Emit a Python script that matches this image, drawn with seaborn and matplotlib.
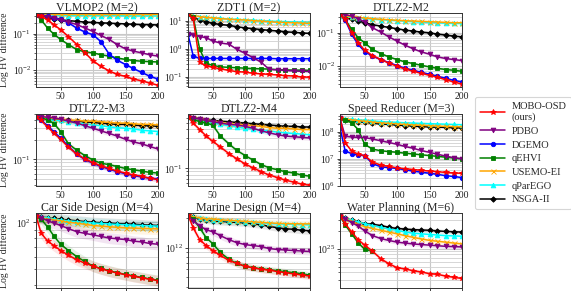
import numpy as np
import matplotlib
matplotlib.use("Agg")
import matplotlib.pyplot as plt
import seaborn as sns
from matplotlib.ticker import LogLocator, NullFormatter, FixedLocator
from matplotlib.lines import Line2D

# ---------------- data (log10 of HV difference) ----------------
X = [12, 20, 30, 40, 50, 62, 75, 87, 100, 112, 125, 137, 150, 162, 175, 187, 200]

METHODS = ["MOBO-OSD\n(ours)", "PDBO", "DGEMO", "qEHVI", "USEMO-EI", "qParEGO", "NSGA-II"]
TITLES = ["VLMOP2 (M=2)", "ZDT1 (M=2)", "DTLZ2-M2",
          "DTLZ2-M3", "DTLZ2-M4", "Speed Reducer (M=3)",
          "Car Side Design (M=4)", "Marine Design (M=4)", "Water Planning (M=6)"]

# VLMOP2
vlmop2_mobo = [-0.48, -0.52, -0.62, -0.76, -0.89, -1.08, -1.3, -1.52, -1.75, -1.9, -2.03, -2.12, -2.18, -2.25, -2.3, -2.36, -2.42]
vlmop2_pdbo = [-0.48, -0.5, -0.54, -0.58, -0.62, -0.68, -0.75, -0.84, -0.94, -1.05, -1.16, -1.3, -1.42, -1.48, -1.53, -1.58, -1.62]
vlmop2_dgemo = [-0.48, -0.49, -0.52, -0.56, -0.6, -0.7, -0.85, -0.95, -1.03, -1.22, -1.57, -1.73, -1.85, -1.96, -2.07, -2.17, -2.25]
vlmop2_qehvi = [-0.48, -0.62, -0.85, -1.02, -1.16, -1.3, -1.44, -1.5, -1.53, -1.58, -1.62, -1.67, -1.71, -1.74, -1.76, -1.77, -1.78]
vlmop2_usemo = [-0.46, -0.46, -0.46, -0.47, -0.47, -0.47, -0.47, -0.47, -0.47, -0.47, -0.47, -0.47, -0.47, -0.47, -0.47, -0.47, -0.47]
vlmop2_qparego = [-0.47, -0.48, -0.48, -0.49, -0.49, -0.5, -0.5, -0.5, -0.5, -0.5, -0.5, -0.5, -0.51, -0.51, -0.51, -0.51, -0.51]
vlmop2_nsga = [-0.47, -0.5, -0.55, -0.59, -0.62, -0.64, -0.66, -0.68, -0.69, -0.7, -0.71, -0.72, -0.73, -0.74, -0.75, -0.75, -0.76]

# ZDT1
zdt1_mobo = [1.24, 1.1, -0.47, -0.59, -0.65, -0.7, -0.76, -0.8, -0.82, -0.86, -0.88, -0.9, -0.92, -0.94, -0.96, -0.99, -1.0]
zdt1_pdbo = [0.55, 0.5, 0.45, 0.41, 0.29, 0.22, 0.18, 0.0, -0.15, -0.3, -0.47, -0.72, -0.74, -0.76, -0.78, -0.79, -0.8]
zdt1_dgemo = [0.53, -0.24, -0.33, -0.33, -0.33, -0.33, -0.33, -0.33, -0.33, -0.33, -0.33, -0.33, -0.34, -0.34, -0.34, -0.34, -0.34]
zdt1_qehvi = [1.24, 1.15, 0.0, -0.5, -0.58, -0.63, -0.65, -0.66, -0.68, -0.69, -0.7, -0.71, -0.73, -0.74, -0.75, -0.75, -0.76]
zdt1_usemo = [1.24, 1.2, 1.16, 1.13, 1.12, 1.09, 1.07, 1.05, 1.04, 1.02, 1.0, 0.98, 0.96, 0.95, 0.94, 0.93, 0.92]
zdt1_qparego = [1.24, 1.2, 1.16, 1.13, 1.12, 1.1, 1.08, 1.06, 1.05, 1.03, 1.02, 1.0, 0.99, 0.98, 0.97, 0.96, 0.96]
zdt1_nsga = [1.24, 1.12, 1.05, 0.98, 0.92, 0.88, 0.85, 0.8, 0.76, 0.73, 0.7, 0.67, 0.65, 0.62, 0.6, 0.58, 0.56]

# DTLZ2-M2
dtlz2m2_mobo = [-0.45, -0.6, -1.0, -1.3, -1.52, -1.68, -1.8, -1.9, -2.0, -2.08, -2.15, -2.21, -2.27, -2.33, -2.4, -2.47, -2.53]
dtlz2m2_pdbo = [-0.45, -0.46, -0.5, -0.58, -0.68, -0.85, -0.98, -1.12, -1.25, -1.37, -1.48, -1.57, -1.64, -1.72, -1.77, -1.8, -1.83]
dtlz2m2_dgemo = [-0.45, -0.62, -1.05, -1.35, -1.56, -1.7, -1.8, -1.89, -1.98, -2.06, -2.12, -2.18, -2.24, -2.3, -2.36, -2.42, -2.47]
dtlz2m2_qehvi = [-0.45, -0.6, -0.9, -1.15, -1.3, -1.5, -1.62, -1.72, -1.8, -1.87, -1.92, -1.97, -2.02, -2.06, -2.1, -2.12, -2.15]
dtlz2m2_usemo = [-0.5, -0.51, -0.52, -0.54, -0.56, -0.58, -0.6, -0.61, -0.63, -0.64, -0.65, -0.66, -0.67, -0.68, -0.69, -0.7, -0.7]
dtlz2m2_qparego = [-0.5, -0.51, -0.53, -0.55, -0.57, -0.59, -0.61, -0.62, -0.64, -0.65, -0.67, -0.68, -0.69, -0.7, -0.71, -0.72, -0.72]
dtlz2m2_nsga = [-0.5, -0.55, -0.6, -0.65, -0.7, -0.76, -0.8, -0.84, -0.88, -0.92, -0.95, -0.98, -1.0, -1.04, -1.07, -1.1, -1.12]

# DTLZ2-M3
dtlz2m3_mobo = [-0.34, -0.4, -0.5, -0.6, -0.69, -0.81, -0.92, -0.99, -1.05, -1.1, -1.14, -1.18, -1.21, -1.24, -1.26, -1.29, -1.31]
dtlz2m3_pdbo = [-0.34, -0.34, -0.35, -0.36, -0.38, -0.41, -0.44, -0.48, -0.52, -0.56, -0.6, -0.64, -0.69, -0.73, -0.76, -0.8, -0.84]
dtlz2m3_dgemo = [-0.34, -0.4, -0.48, -0.58, -0.67, -0.8, -0.92, -1.0, -1.06, -1.11, -1.15, -1.19, -1.22, -1.25, -1.27, -1.29, -1.3]
dtlz2m3_qehvi = [-0.34, -0.36, -0.39, -0.45, -0.57, -0.76, -0.86, -0.94, -1.01, -1.06, -1.08, -1.11, -1.14, -1.16, -1.18, -1.2, -1.21]
dtlz2m3_usemo = [-0.34, -0.35, -0.36, -0.37, -0.38, -0.39, -0.4, -0.41, -0.41, -0.42, -0.43, -0.44, -0.44, -0.45, -0.46, -0.46, -0.47]
dtlz2m3_qparego = [-0.34, -0.36, -0.38, -0.4, -0.4, -0.42, -0.44, -0.45, -0.47, -0.48, -0.5, -0.51, -0.52, -0.53, -0.55, -0.56, -0.57]
dtlz2m3_nsga = [-0.34, -0.36, -0.37, -0.38, -0.39, -0.4, -0.41, -0.42, -0.43, -0.44, -0.45, -0.46, -0.46, -0.47, -0.48, -0.48, -0.49]

# DTLZ2-M4 (no DGEMO curve)
dtlz2m4_mobo = [-0.2, -0.3, -0.4, -0.5, -0.58, -0.67, -0.77, -0.85, -0.93, -0.99, -1.05, -1.1, -1.14, -1.18, -1.21, -1.24, -1.26]
dtlz2m4_pdbo = [-0.2, -0.22, -0.24, -0.26, -0.28, -0.3, -0.32, -0.33, -0.35, -0.38, -0.42, -0.45, -0.48, -0.5, -0.51, -0.52, -0.53]
dtlz2m4_dgemo = None
dtlz2m4_qehvi = [-0.2, -0.24, -0.28, -0.3, -0.33, -0.5, -0.62, -0.72, -0.8, -0.87, -0.94, -0.99, -1.02, -1.05, -1.07, -1.1, -1.12]
dtlz2m4_usemo = [-0.2, -0.22, -0.24, -0.26, -0.28, -0.29, -0.31, -0.32, -0.33, -0.34, -0.35, -0.37, -0.38, -0.38, -0.39, -0.4, -0.4]
dtlz2m4_qparego = [-0.2, -0.23, -0.26, -0.28, -0.3, -0.32, -0.34, -0.36, -0.38, -0.39, -0.41, -0.42, -0.44, -0.45, -0.46, -0.47, -0.48]
dtlz2m4_nsga = [-0.2, -0.22, -0.23, -0.25, -0.26, -0.27, -0.28, -0.29, -0.3, -0.31, -0.32, -0.33, -0.34, -0.35, -0.35, -0.36, -0.36]

# Speed Reducer
speed_mobo = [8.52, 7.6, 7.3, 7.18, 7.13, 6.89, 6.77, 6.73, 6.67, 6.64, 6.61, 6.58, 6.55, 6.53, 6.5, 6.48, 6.47]
speed_pdbo = [8.52, 7.85, 7.82, 7.81, 7.8, 7.75, 7.68, 7.62, 7.55, 7.47, 7.4, 7.32, 7.25, 7.18, 7.11, 7.05, 7.01]
speed_dgemo = [8.16, 7.3, 7.2, 7.15, 7.13, 6.83, 6.71, 6.68, 6.65, 6.6, 6.55, 6.51, 6.47, 6.43, 6.38, 6.35, 6.31]
speed_qehvi = [8.52, 8.45, 8.35, 8.1, 7.55, 7.37, 7.31, 7.28, 7.25, 7.22, 7.19, 7.16, 7.13, 7.1, 7.07, 7.04, 7.01]
speed_usemo = [8.52, 8.49, 8.46, 8.43, 8.41, 8.38, 8.35, 8.33, 8.31, 8.29, 8.27, 8.26, 8.24, 8.23, 8.22, 8.21, 8.2]
speed_qparego = [8.52, 8.5, 8.48, 8.46, 8.44, 8.42, 8.4, 8.38, 8.37, 8.35, 8.34, 8.33, 8.32, 8.31, 8.3, 8.29, 8.28]
speed_nsga = [8.52, 8.47, 8.43, 8.4, 8.37, 8.34, 8.31, 8.29, 8.27, 8.25, 8.23, 8.21, 8.2, 8.19, 8.18, 8.17, 8.16]

# Car Side Design (no DGEMO curve)
car_mobo = [2.04, 1.93, 1.88, 1.85, 1.82, 1.79, 1.76, 1.74, 1.72, 1.703, 1.688, 1.676, 1.665, 1.655, 1.645, 1.636, 1.627]
car_pdbo = [2.04, 2.03, 2.01, 1.995, 1.98, 1.96, 1.94, 1.93, 1.92, 1.91, 1.9, 1.895, 1.89, 1.88, 1.875, 1.865, 1.86]
car_dgemo = None
car_qehvi = [2.04, 2.02, 1.97, 1.91, 1.86, 1.82, 1.78, 1.75, 1.72, 1.705, 1.69, 1.678, 1.667, 1.657, 1.648, 1.638, 1.63]
car_usemo = [2.04, 2.03, 2.02, 2.015, 2.01, 2.0, 1.995, 1.988, 1.98, 1.976, 1.972, 1.968, 1.965, 1.963, 1.961, 1.96, 1.958]
car_qparego = [2.04, 2.035, 2.03, 2.022, 2.015, 2.01, 2.005, 2.0, 1.996, 1.993, 1.99, 1.987, 1.985, 1.982, 1.98, 1.978, 1.976]
car_nsga = [2.04, 2.035, 2.03, 2.025, 2.02, 2.015, 2.01, 2.005, 2.0, 1.998, 1.995, 1.992, 1.99, 1.988, 1.985, 1.982, 1.98]

# Marine Design (no DGEMO curve)
marine_mobo = [12.33, 12.2, 12.08, 12.02, 11.97, 11.92, 11.87, 11.84, 11.81, 11.795, 11.78, 11.77, 11.757, 11.745, 11.733, 11.722, 11.71]
marine_pdbo = [12.33, 12.27, 12.22, 12.18, 12.16, 12.12, 12.08, 12.05, 12.03, 12.02, 12.01, 11.99, 11.98, 11.975, 11.97, 11.965, 11.96]
marine_dgemo = None
marine_qehvi = [12.33, 12.29, 12.2, 12.1, 12.04, 11.95, 11.88, 11.84, 11.81, 11.795, 11.785, 11.775, 11.765, 11.755, 11.745, 11.735, 11.72]
marine_usemo = [12.33, 12.31, 12.3, 12.29, 12.29, 12.28, 12.275, 12.27, 12.265, 12.26, 12.255, 12.25, 12.245, 12.243, 12.241, 12.24, 12.24]
marine_qparego = [12.33, 12.31, 12.3, 12.29, 12.28, 12.275, 12.27, 12.265, 12.26, 12.255, 12.25, 12.245, 12.24, 12.237, 12.235, 12.232, 12.23]
marine_nsga = [12.33, 12.31, 12.29, 12.28, 12.27, 12.265, 12.26, 12.255, 12.25, 12.24, 12.23, 12.215, 12.2, 12.19, 12.185, 12.175, 12.17]

# Water Planning (no DGEMO curve, qEHVI stops early)
water_mobo = [25.55, 25.42, 25.28, 25.15, 25.06, 24.96, 24.83, 24.75, 24.68, 24.66, 24.63, 24.61, 24.58, 24.57, 24.54, 24.52, 24.5]
water_pdbo = [25.55, 25.5, 25.44, 25.38, 25.3, 25.22, 25.17, 25.14, 25.11, 25.095, 25.08, 25.07, 25.06, 25.05, 25.04, 25.035, 25.03]
water_dgemo = None
water_qehvi = [25.55, 25.4, 25.25, 25.1, 24.99, 24.96, np.nan, np.nan, np.nan, np.nan, np.nan, np.nan, np.nan, np.nan, np.nan, np.nan, np.nan]
water_usemo = [25.55, 25.5, 25.46, 25.41, 25.37, 25.34, 25.31, 25.28, 25.25, 25.22, 25.19, 25.165, 25.14, 25.125, 25.11, 25.095, 25.08]
water_qparego = [25.55, 25.51, 25.48, 25.45, 25.42, 25.39, 25.36, 25.33, 25.31, 25.28, 25.26, 25.25, 25.24, 25.23, 25.22, 25.215, 25.21]
water_nsga = [25.55, 25.51, 25.48, 25.45, 25.42, 25.41, 25.39, 25.36, 25.34, 25.33, 25.32, 25.315, 25.31, 25.3, 25.29, 25.285, 25.28]

PANEL_SERIES = [
    [vlmop2_mobo, vlmop2_pdbo, vlmop2_dgemo, vlmop2_qehvi, vlmop2_usemo, vlmop2_qparego, vlmop2_nsga],
    [zdt1_mobo, zdt1_pdbo, zdt1_dgemo, zdt1_qehvi, zdt1_usemo, zdt1_qparego, zdt1_nsga],
    [dtlz2m2_mobo, dtlz2m2_pdbo, dtlz2m2_dgemo, dtlz2m2_qehvi, dtlz2m2_usemo, dtlz2m2_qparego, dtlz2m2_nsga],
    [dtlz2m3_mobo, dtlz2m3_pdbo, dtlz2m3_dgemo, dtlz2m3_qehvi, dtlz2m3_usemo, dtlz2m3_qparego, dtlz2m3_nsga],
    [dtlz2m4_mobo, dtlz2m4_pdbo, dtlz2m4_dgemo, dtlz2m4_qehvi, dtlz2m4_usemo, dtlz2m4_qparego, dtlz2m4_nsga],
    [speed_mobo, speed_pdbo, speed_dgemo, speed_qehvi, speed_usemo, speed_qparego, speed_nsga],
    [car_mobo, car_pdbo, car_dgemo, car_qehvi, car_usemo, car_qparego, car_nsga],
    [marine_mobo, marine_pdbo, marine_dgemo, marine_qehvi, marine_usemo, marine_qparego, marine_nsga],
    [water_mobo, water_pdbo, water_dgemo, water_qehvi, water_usemo, water_qparego, water_nsga],
]

# axis limits (log10 units)
YLIM_LOG = [(-2.47, -0.43), (-1.35, 1.29), (-2.62, -0.41),
            (-1.41, -0.30), (-1.27, -0.16), (5.995, 8.68),
            (1.58, 2.06), (11.59, 12.35), (24.34, 25.6)]

# ---------------- style ----------------
COLORS = ["#ff0000", "#800080", "#0000ff", "#008000", "#ffa500", "#00ffff", "#000000"]
MARKERS = ["*", "v", "o", "s", "x", "^", "D"]
MSIZE = [3.8, 3.4, 3.2, 3.2, 3.6, 3.4, 2.8]

sns.set_theme(style="white")
plt.rcParams["font.family"] = ["Liberation Serif", "DejaVu Serif"]
plt.rcParams["mathtext.fontset"] = "custom"
plt.rcParams["mathtext.rm"] = "Liberation Serif"
plt.rcParams["mathtext.it"] = "Liberation Serif:italic"

fig = plt.figure(figsize=(5.71, 2.91), dpi=100)
W, H = 571.0, 291.0
col_left = [36, 188, 340]
row_top = [13, 114, 213]
row_h = [74, 72, 75]
ax_w = 122

for i in range(9):
    r, c = divmod(i, 3)
    ax = fig.add_axes([col_left[c] / W, 1 - (row_top[r] + row_h[r]) / H, ax_w / W, row_h[r] / H])
    for k in reversed(range(7)):
        s = PANEL_SERIES[i][k]
        if s is None:
            continue
        y = 10.0 ** np.asarray(s, dtype=float)
        ax.fill_between(X, y * 0.92, y * 1.08, color=COLORS[k], alpha=0.10, lw=0)
        sns.lineplot(x=X, y=y, ax=ax, color=COLORS[k], marker=MARKERS[k],
                     markersize=MSIZE[k], markeredgewidth=0.6, markeredgecolor=COLORS[k],
                     linewidth=1.1, legend=False)
    ax.set_yscale("log")
    lo, hi = YLIM_LOG[i]
    ax.set_ylim(10.0 ** lo, 10.0 ** hi)
    ax.set_xlim(12, 200)
    ax.xaxis.set_major_locator(FixedLocator([50, 100, 150, 200]))
    ax.yaxis.set_major_locator(LogLocator(base=10, numticks=20))
    ax.yaxis.set_minor_locator(LogLocator(base=10, subs=np.arange(2, 10), numticks=50))
    ax.yaxis.set_minor_formatter(NullFormatter())
    ax.grid(True, which="major", color="#c8c8c8", lw=0.8)
    ax.grid(True, which="minor", axis="y", color="#d0d0d0", lw=0.6)
    ax.set_axisbelow(True)
    ax.tick_params(axis="both", which="major", labelsize=7.0, length=2.5, width=0.6,
                   direction="out", pad=1.0, left=True, bottom=True, colors="#222222")
    ax.tick_params(axis="y", which="minor", length=1.5, width=0.5, left=True)
    for sp in ax.spines.values():
        sp.set_color("#333333")
        sp.set_linewidth(0.7)
    ax.set_xlabel("")
    if c == 0:
        ax.set_ylabel("Log HV difference", fontsize=7.0)
        ax.yaxis.set_label_coords(-0.225, 0.5)
    else:
        ax.set_ylabel("")
    ax.set_title(TITLES[i], fontsize=8.6, pad=1.5)

handles = [Line2D([0], [0], color=COLORS[k], marker=MARKERS[k], markersize=MSIZE[k],
                  markeredgewidth=0.6, linewidth=1.1) for k in range(7)]
leg = fig.legend(handles, METHODS, loc="upper left",
                 bbox_to_anchor=(475 / W, 1 - 97 / H), fontsize=7.5, frameon=True,
                 handlelength=2.4, labelspacing=0.42, borderpad=0.5, handletextpad=0.6,
                 borderaxespad=0.0, fancybox=True)
leg.get_frame().set_edgecolor("#cccccc")
leg.get_frame().set_linewidth(0.8)

fig.savefig("out.png", dpi=100)
